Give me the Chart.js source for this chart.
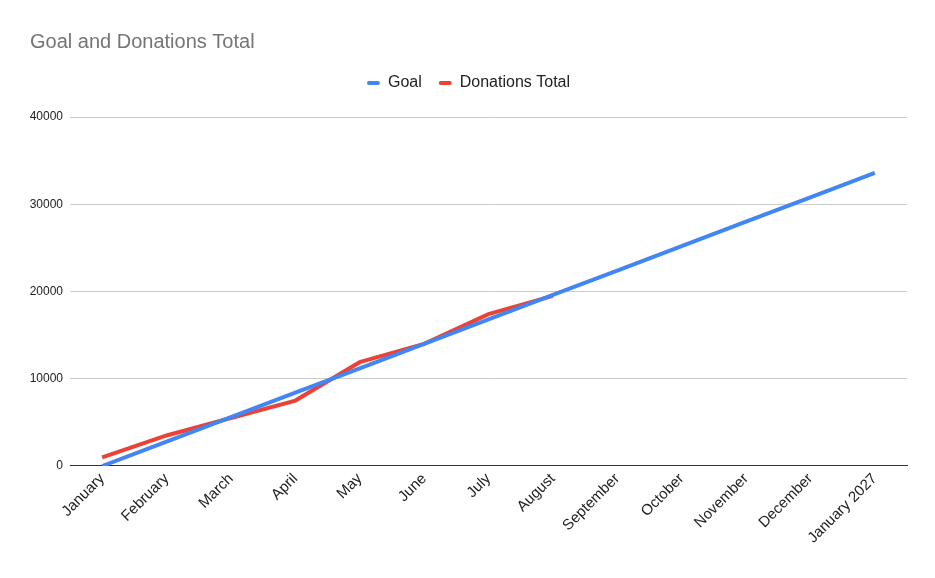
<!DOCTYPE html>
<html>
<head>
<meta charset="utf-8">
<script src="https://cdn.jsdelivr.net/npm/chart.js@4"></script>
<style>
html,body{margin:0;padding:0;background:#fff;}
#wrap{width:935px;height:578px;}
</style>
</head>
<body>
<div id="wrap"><canvas id="c" width="935" height="578"></canvas></div>
<script>
const categories = ["January","February","March","April","May","June","July","August","September","October","November","December","January 2027"];
const goal = [0,2800,5600,8400,11200,14000,16800,19600,22400,25200,28000,30800,33600];
const donations = [1000,3500,5500,7500,11900,14000,17400,19500,null,null,null,null,null];
const yTicks = [0,10000,20000,30000,40000];

const FONT = "'Liberation Sans', Arial, sans-serif";

const legendMargin = {
  id:'legendMargin',
  beforeInit(chart){
    const orig = chart.legend.fit;
    chart.legend.fit = function(){ orig.call(this); this.height += 16; };
  }
};

new Chart(document.getElementById('c'), {
  type: 'line',
  data: {
    labels: categories,
    datasets: [
      {label:'Goal', data: goal, borderColor:'#4285F4', backgroundColor:'#4285F4', borderWidth:4, pointRadius:0, tension:0},
      {label:'Donations Total', data: donations, borderColor:'#EA4335', backgroundColor:'#EA4335', borderWidth:4, pointRadius:0, tension:0, spanGaps:false}
    ]
  },
  plugins:[legendMargin],
  options: {
    responsive:false,
    animation:false,
    layout:{padding:{left:30,right:28,top:30,bottom:27}},
    plugins:{
      title:{display:true, text:'Goal and Donations Total', align:'start', color:'#757575',
        font:{family:FONT, size:20, weight:'normal'}, padding:{top:0,bottom:4}},
      legend:{display:true, position:'top', align:'center',
        labels:{color:'#222', font:{family:FONT, size:16}, boxWidth:13, boxHeight:4, useBorderRadius:true, borderRadius:2, padding:17,
          generateLabels:(chart)=>{
            const items = Chart.defaults.plugins.legend.labels.generateLabels(chart);
            items.forEach(it=>{ it.lineWidth = 0; it.strokeStyle = it.fillStyle; });
            return items;
          }}},
      tooltip:{enabled:false}
    },
    scales:{
      x:{offset:true,
        grid:{display:false, drawTicks:false},
        border:{display:true, color:'#333', width:1},
        ticks:{color:'#222', font:{family:FONT, size:15}, minRotation:45, maxRotation:45, autoSkip:false, padding:4}
      },
      y:{min:0, max:40000,
        afterBuildTicks:(axis)=>{axis.ticks = yTicks.map(v=>({value:v}));},
        afterFit:(axis)=>{axis.width = 40;},
        grid:{color:(ctx)=> ctx.tick && ctx.tick.value===0 ? '#333' : '#ccc', drawTicks:false},
        border:{display:false},
        ticks:{color:'#222', font:{family:FONT, size:12}, padding:7, callback:(v)=>String(v)}
      }
    }
  }
});
</script>
</body>
</html>
